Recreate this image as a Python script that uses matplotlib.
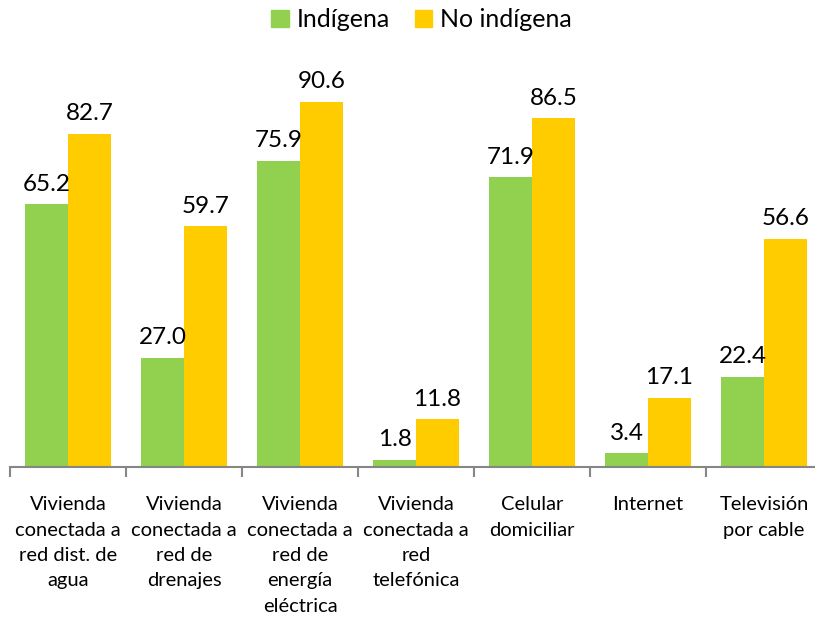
import numpy as np
import matplotlib
matplotlib.use('Agg')
import matplotlib.pyplot as plt
from matplotlib.patches import Patch

plt.rcParams['font.family'] = ['Lato', 'DejaVu Sans']

categorias = [
    'Vivienda\nconectada a\nred dist. de\nagua',
    'Vivienda\nconectada a\nred de\ndrenajes',
    'Vivienda\nconectada a\nred de\nenergía\neléctrica',
    'Vivienda\nconectada a\nred\ntelefónica',
    'Celular\ndomiciliar',
    'Internet',
    'Televisión\npor cable',
]
indigena = [65.2, 27.0, 75.9, 1.8, 71.9, 3.4, 22.4]
no_indigena = [82.7, 59.7, 90.6, 11.8, 86.5, 17.1, 56.6]

VERDE = '#92D050'
AMARILLO = '#FFCC00'

fig = plt.figure(figsize=(8.15, 6.2), dpi=100)
# el eje se sale un poco por la derecha, como en el original
ax = fig.add_axes([10 / 815, 153 / 620, 812 / 815, 403 / 620])

x = np.arange(len(categorias))
w = 0.37
b1 = ax.bar(x - w / 2, indigena, w, color=VERDE)
b2 = ax.bar(x + w / 2, no_indigena, w, color=AMARILLO)

for bars, vals in ((b1, indigena), (b2, no_indigena)):
    for rect, v in zip(bars, vals):
        ax.annotate(f'{v:.1f}', (rect.get_x() + rect.get_width() / 2, v),
                    xytext=(0, 7), textcoords='offset points',
                    ha='center', va='bottom', fontsize=17.5, color='black')

ax.set_xlim(-0.5, len(categorias) - 0.5)
ax.set_ylim(0, 100)

for s in ('top', 'right', 'left'):
    ax.spines[s].set_visible(False)
ax.spines['bottom'].set_color('#868686')
ax.spines['bottom'].set_linewidth(1.5)

ax.set_yticks([])
ax.set_xticks(x)
ax.set_xticklabels(categorias, fontsize=14.5, linespacing=1.6, color='black',
                   va='top')
ax.tick_params(axis='x', which='major', length=0, pad=21)
ax.set_xticks(np.arange(len(categorias) + 1) - 0.5, minor=True)
ax.tick_params(axis='x', which='minor', length=7, width=1.5, color='#868686')

handles = [Patch(color=VERDE), Patch(color=AMARILLO)]
fig.legend(handles, ['Indígena', 'No indígena'], loc='center',
           bbox_to_anchor=(0.517, 0.968), ncol=2, frameon=False, fontsize=18,
           handlelength=0.7, handleheight=0.7, handletextpad=0.3,
           columnspacing=1.0)

fig.savefig('out.png', dpi=100)
